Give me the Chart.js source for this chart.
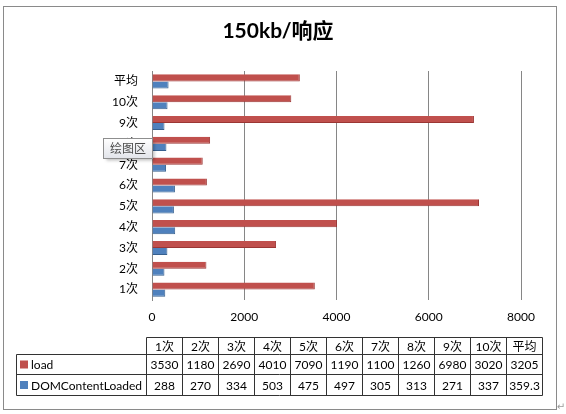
<!DOCTYPE html>
<html>
<head>
<meta charset="utf-8">
<script src="https://cdn.jsdelivr.net/npm/chart.js@4/dist/chart.umd.min.js"></script>
<style>
  html, body { margin: 0; padding: 0; background: #fff; }
  #wrap { width: 566px; height: 414px; }
</style>
</head>
<body>
<div id="wrap"><canvas id="responseChart"></canvas></div>
<script>
// chart values
const chartTitle = '150kb/响应';
const categories = ['1次', '2次', '3次', '4次', '5次', '6次', '7次', '8次', '9次', '10次', '平均'];
const loadValues = [3530, 1180, 2690, 4010, 7090, 1190, 1100, 1260, 6980, 3020, 3205];
const domValues = [288, 270, 334, 503, 475, 497, 305, 313, 271, 337, 359.3];
const seriesNames = ['load', 'DOMContentLoaded'];
const xTicks = [0, 2000, 4000, 6000, 8000];

const RED = '#C0504D';
const BLUE = '#4F81BD';
const FONT = 'Lato, "Noto Sans CJK SC", sans-serif';

// draws the title, excel-style data table, frame and the hover box
const extrasPlugin = {
    id: 'extras',
    afterDraw(chart) {
        const ctx = chart.ctx;
        ctx.save();

        // outer frame
        ctx.strokeStyle = '#8a8a8a';
        ctx.lineWidth = 1;
        ctx.strokeRect(3.5, 6.5, 553, 403);

        // title, centred on the frame
        ctx.fillStyle = '#000';
        ctx.font = 'bold 21px ' + FONT;
        ctx.textAlign = 'center';
        ctx.textBaseline = 'middle';
        ctx.fillText(chartTitle, 278, 31);

        // data table
        const left = 16.5, colStart = 146.5, colW = 36, right = colStart + colW * categories.length;
        const rows = [337.5, 354.5, 374.5, 395.5];
        ctx.strokeStyle = '#333';
        ctx.beginPath();
        ctx.moveTo(colStart, rows[0]); ctx.lineTo(right, rows[0]);
        for (let r = 1; r < rows.length; r++) {
            ctx.moveTo(left, rows[r]); ctx.lineTo(right, rows[r]);
        }
        ctx.moveTo(left, rows[1]); ctx.lineTo(left, rows[3]);
        for (let c = 0; c <= categories.length; c++) {
            const x = colStart + c * colW;
            ctx.moveTo(x, rows[0]); ctx.lineTo(x, rows[3]);
        }
        ctx.stroke();

        ctx.font = '12px ' + FONT;
        ctx.fillStyle = '#000';
        const series = [loadValues, domValues];
        categories.forEach((cat, i) => {
            const cx = colStart + i * colW + colW / 2;
            ctx.fillText(cat, cx, (rows[0] + rows[1]) / 2 + 1);
            series.forEach((vals, s) => {
                ctx.fillText(String(vals[i]), cx, (rows[s + 1] + rows[s + 2]) / 2 + 1);
            });
        });
        ctx.textAlign = 'left';
        [RED, BLUE].forEach((col, s) => {
            const cy = (rows[s + 1] + rows[s + 2]) / 2;
            ctx.fillStyle = col;
            ctx.fillRect(20, cy - 4, 8, 8);
            ctx.fillStyle = '#000';
            ctx.fillText(seriesNames[s], 31, cy + 1);
        });

        // hover box over the plot area
        const bx = 103.5, by = 138.5, bw = 49, bh = 20;
        ctx.shadowColor = 'rgba(0,0,0,0.25)';
        ctx.shadowOffsetX = 2;
        ctx.shadowOffsetY = 2;
        ctx.shadowBlur = 3;
        const grad = ctx.createLinearGradient(0, by, 0, by + bh);
        grad.addColorStop(0, '#ffffff');
        grad.addColorStop(1, '#e2e4ea');
        ctx.fillStyle = grad;
        ctx.fillRect(bx, by, bw, bh);
        ctx.shadowColor = 'transparent';
        ctx.strokeStyle = '#8e8e8e';
        ctx.strokeRect(bx, by, bw, bh);
        ctx.fillStyle = '#4c4c4c';
        ctx.textAlign = 'center';
        ctx.fillText('绘图区', bx + bw / 2, by + bh / 2 + 1);

        // paragraph mark
        ctx.fillStyle = '#9a9a9a';
        ctx.font = '10px "DejaVu Sans", sans-serif';
        ctx.fillText('↵', 561, 407);

        ctx.restore();
    }
};

new Chart(document.getElementById('responseChart'), {
    type: 'bar',
    data: {
        labels: categories,
        datasets: [{
            label: seriesNames[0],
            data: loadValues,
            backgroundColor: RED,
            borderColor: '#9B3634',
            borderWidth: { top: 0, right: 1, bottom: 1, left: 0 },
            borderSkipped: 'start'
        }, {
            label: seriesNames[1],
            data: domValues,
            backgroundColor: BLUE,
            borderColor: '#36608F',
            borderWidth: { top: 0, right: 1, bottom: 1, left: 0 },
            borderSkipped: 'start'
        }]
    },
    options: {
        indexAxis: 'y',
        responsive: true,
        maintainAspectRatio: false,
        animation: false,
        categoryPercentage: 0.68,
        barPercentage: 1,
        layout: {
            padding: { left: 0, right: 45, top: 71, bottom: 84 }
        },
        plugins: {
            legend: { display: false },
            tooltip: { enabled: false },
            title: { display: false }
        },
        scales: {
            x: {
                min: 0,
                max: 8000,
                afterFit: scale => { scale.height = 30; },
                afterBuildTicks: scale => { scale.ticks = xTicks.map(v => ({ value: v })); },
                grid: { color: '#868686', drawTicks: false },
                border: { display: false },
                ticks: {
                    color: '#000',
                    padding: 10,
                    font: { family: FONT, size: 12 },
                    callback: value => String(value)
                }
            },
            y: {
                reverse: true,
                afterFit: scale => { scale.width = 152; },
                grid: { display: false, drawTicks: false },
                border: { display: true, color: '#868686' },
                ticks: { color: '#000', padding: 14, font: { family: FONT, size: 12 } }
            }
        }
    },
    plugins: [extrasPlugin]
});
</script>
</body>
</html>
